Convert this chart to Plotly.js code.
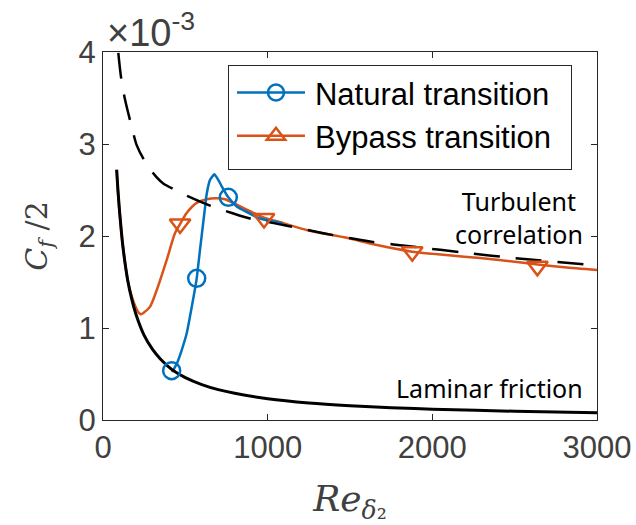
<!DOCTYPE html>
<html>
<head>
<meta charset="utf-8">
<script src="https://cdn.plot.ly/plotly-3.0.1.min.js"></script>
<style>html,body{margin:0;padding:0;background:#fff;}#chart{width:636px;height:525px;}</style>
</head>
<body>
<div id="chart"></div>
<script>
// Values in units of 1e-3
const lamRe = [83, 90, 100, 120, 150, 175, 200, 250, 300, 350, 417, 500, 600, 700, 800, 1000, 1250, 1500, 1750, 2000, 2500, 3000];
const lamCf = [2.72, 2.52, 2.28, 1.90, 1.52, 1.31, 1.15, 0.92, 0.77, 0.66, 0.55, 0.46, 0.385, 0.33, 0.29, 0.232, 0.186, 0.156, 0.134, 0.118, 0.095, 0.080];

const turbRe = [93, 110, 134, 174, 204, 245, 285, 325, 366, 450, 518, 650, 782, 893, 1095, 1338, 1621, 1905, 2188, 2500, 3000];
const turbCf = [3.99, 3.72, 3.48, 3.19, 2.99, 2.84, 2.73, 2.64, 2.57, 2.49, 2.43, 2.33, 2.25, 2.19, 2.12, 2.03, 1.94, 1.88, 1.82, 1.76, 1.68];

const natRe = [420, 450, 478, 508, 539, 569, 589, 613, 630, 650, 676, 700, 721, 761, 812, 852, 953, 1090];
const natCf = [0.52, 0.62, 0.76, 0.94, 1.23, 1.54, 1.85, 2.21, 2.46, 2.61, 2.67, 2.61, 2.54, 2.42, 2.32, 2.28, 2.19, 2.14];
const natMarkRe = [417, 569, 761];
const natMarkCf = [0.536, 1.54, 2.42];

const bypRe = [83, 90, 100, 120, 150, 175, 200, 215, 231, 250, 285, 326, 387, 437, 468, 508, 569, 630, 690, 740, 791, 880, 978, 1075, 1250, 1480, 1642, 1878, 2100, 2290, 2500, 2640, 2800, 3000];
const bypCf = [2.72, 2.50, 2.27, 1.90, 1.52, 1.34, 1.22, 1.17, 1.15, 1.17, 1.23, 1.41, 1.74, 2.03, 2.13, 2.25, 2.36, 2.40, 2.41, 2.40, 2.36, 2.28, 2.20, 2.15, 2.06, 1.98, 1.91, 1.83, 1.79, 1.76, 1.72, 1.69, 1.66, 1.63];
const bypMarkRe = [468, 978, 1878, 2638];
const bypMarkCf = [2.13, 2.19, 1.83, 1.67];

const xTicks = [0, 1000, 2000, 3000];
const yTicks = [0, 1, 2, 3, 4];

const BLUE = '#0072BD', ORANGE = '#D95319';

const traces = [
  {x: bypRe, y: bypCf, mode: 'lines', line: {color: ORANGE, width: 2.5, shape: 'spline', smoothing: 0.8}, showlegend: false, hoverinfo: 'skip'},
  {x: natRe, y: natCf, mode: 'lines', line: {color: BLUE, width: 2.5, shape: 'spline', smoothing: 0.5}, showlegend: false, hoverinfo: 'skip'},
  {x: lamRe, y: lamCf, mode: 'lines', line: {color: '#000', width: 3, shape: 'spline', smoothing: 0.8}, showlegend: false, hoverinfo: 'skip'},
  {x: turbRe, y: turbCf, mode: 'lines', line: {color: '#000', width: 2.5, dash: '26px,16px', shape: 'spline', smoothing: 0.8}, showlegend: false, hoverinfo: 'skip'},
  {x: natMarkRe, y: natMarkCf, mode: 'markers', marker: {symbol: 'circle-open', size: 17, color: BLUE, line: {width: 2.5, color: BLUE}}, showlegend: false},
  {x: bypMarkRe, y: bypMarkCf, mode: 'markers', marker: {symbol: 'triangle-down-open', size: 18, color: ORANGE, line: {width: 2.5, color: ORANGE}}, showlegend: false},
  {x: [null], y: [null], mode: 'lines+markers', name: 'Natural transition', line: {color: BLUE, width: 2.5}, marker: {symbol: 'circle-open', size: 17, color: BLUE, line: {width: 2.5, color: BLUE}}},
  {x: [null], y: [null], mode: 'lines+markers', name: 'Bypass transition', line: {color: ORANGE, width: 2.5}, marker: {symbol: 'triangle-up-open', size: 18, color: ORANGE, line: {width: 2.5, color: ORANGE}}}
];

const axisCommon = {
  showline: true, linecolor: '#262626', linewidth: 1, mirror: 'ticks',
  ticks: 'inside', ticklen: 6, tickcolor: '#262626', tickwidth: 1,
  showgrid: false, zeroline: false,
  tickfont: {family: 'Liberation Sans, Arial, sans-serif', size: 31, color: '#404040'}
};

const layout = {
  width: 636, height: 525,
  margin: {l: 103, r: 39, t: 52, b: 105},
  paper_bgcolor: '#fff', plot_bgcolor: '#fff',
  xaxis: Object.assign({}, axisCommon, {
    range: [0, 3000], tickvals: xTicks, ticktext: xTicks.map(String),
    title: {text: '<i>Re</i><sub><i>δ</i>₂</sub>', font: {family: 'DejaVu Serif, serif', size: 36, color: '#404040'}, standoff: 24}
  }),
  yaxis: Object.assign({}, axisCommon, {
    range: [0, 4], tickvals: yTicks, ticktext: yTicks.map(String),
    title: {text: '<i>C</i><sub><i>f</i></sub> /2', font: {family: 'DejaVu Serif, serif', size: 30, color: '#404040'}, standoff: 22}
  }),
  legend: {
    x: 0.253, y: 0.965, xanchor: 'left', yanchor: 'top',
    bgcolor: '#fff', bordercolor: '#262626', borderwidth: 1,
    font: {family: 'Liberation Sans, Arial, sans-serif', size: 31, color: '#000'},
    tracegroupgap: 0
  },
  annotations: [
    {xref: 'paper', yref: 'paper', x: 0.0, y: 1.0, xanchor: 'left', yanchor: 'bottom', yshift: -4, xshift: 2,
     text: '×10<sup>-3</sup>', showarrow: false, font: {family: 'Liberation Sans, Arial, sans-serif', size: 38, color: '#404040'}},
    {x: 2930, y: 2.2, xanchor: 'right', yanchor: 'middle', align: 'center', showarrow: false,
     text: 'Turbulent<br>correlation', font: {family: 'Noto Sans, sans-serif', size: 25, color: '#000'}},
    {x: 2930, y: 0.35, xanchor: 'right', yanchor: 'middle', showarrow: false,
     text: 'Laminar friction', font: {family: 'Noto Sans, sans-serif', size: 25, color: '#000'}}
  ]
};

Plotly.newPlot('chart', traces, layout, {displayModeBar: false, staticPlot: true}).then(function (gd) {
  // lengthen the legend line samples, MATLAB style
  const shift = 46;
  const leg = gd.querySelector('.legend');
  if (!leg) return;
  leg.querySelectorAll('.traces').forEach(function (tr) {
    const lp = tr.querySelector('.legendlines path');
    if (lp) lp.setAttribute('d', 'M8,0h' + (30 + shift - 8));
    tr.querySelectorAll('.legendpoints path').forEach(function (p) {
      p.setAttribute('transform', 'translate(' + (20 + shift / 2 + 4) + ',0)');
    });
    const txt = tr.querySelector('text.legendtext');
    if (txt) txt.setAttribute('x', (parseFloat(txt.getAttribute('x')) || 40) + shift);
  });
  const bg = leg.querySelector('rect.bg');
  if (bg) {
    bg.setAttribute('width', parseFloat(bg.getAttribute('width')) + shift + 14);
    bg.setAttribute('height', parseFloat(bg.getAttribute('height')) + 6);
  }
  leg.querySelectorAll('[clip-path]').forEach(function (el) { el.removeAttribute('clip-path'); });
});
</script>
</body>
</html>
